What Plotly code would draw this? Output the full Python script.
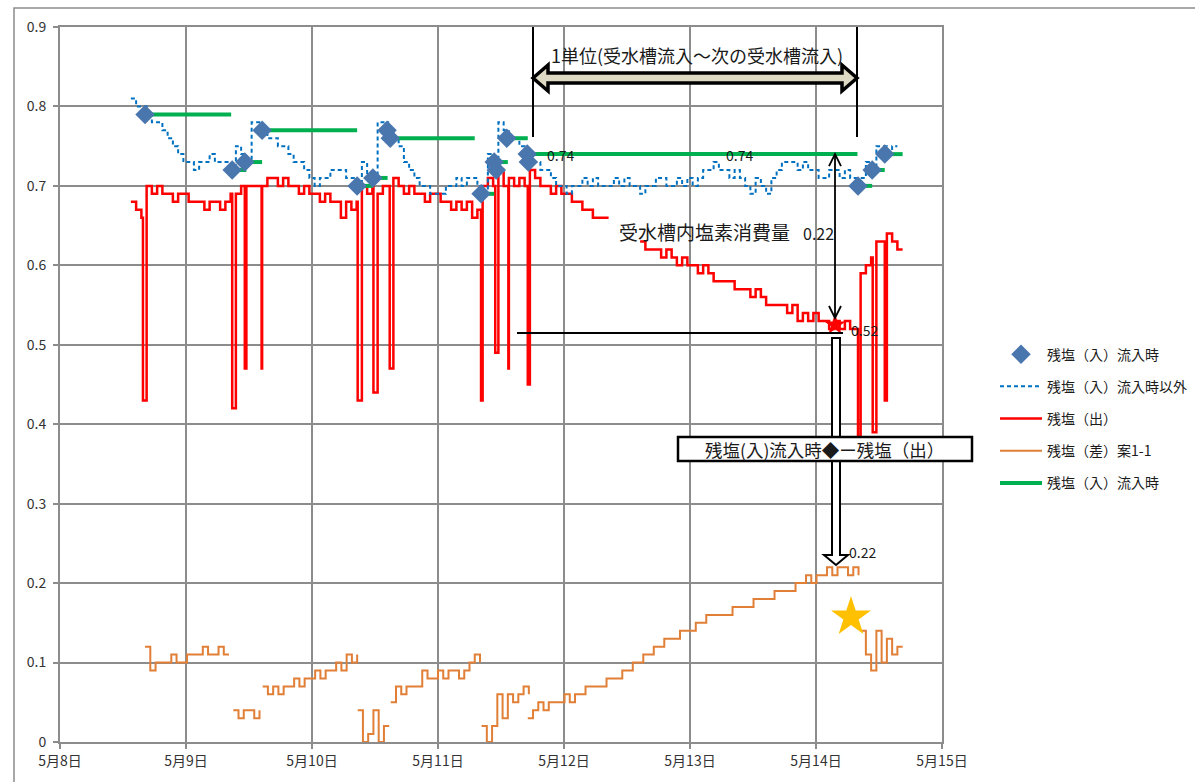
import plotly.graph_objects as go

# ---------------- data (time in hours from 5/8 00:00, hourly samples) ----------------
RED1_START = 13.5
red1_vals = [0.68, 0.67, 0.66, 0.70, 0.69, 0.70, 0.69, 0.69, 0.68, 0.69,
             0.69, 0.68, 0.68, 0.68, 0.67, 0.68, 0.68, 0.67, 0.68, 0.69,
             0.69, 0.70, 0.70, 0.70, 0.70, 0.70, 0.71, 0.71, 0.70, 0.71,
             0.70, 0.70, 0.69, 0.70, 0.69, 0.69, 0.68, 0.69, 0.68, 0.68,
             0.66, 0.68, 0.67, 0.68, 0.70, 0.69, 0.70, 0.69, 0.70, 0.70,
             0.71, 0.70, 0.69, 0.70, 0.69, 0.69, 0.68, 0.69, 0.69, 0.68,
             0.68, 0.67, 0.68, 0.67, 0.68, 0.66, 0.67, 0.70, 0.71, 0.70,
             0.72, 0.70, 0.71, 0.70, 0.71, 0.70, 0.72, 0.71, 0.70, 0.70,
             0.69, 0.70, 0.69, 0.69, 0.68, 0.68, 0.67, 0.67, 0.66, 0.66,
             0.66, 0.66]
red1_spike_h = [15.8, 32.8, 35.2, 38.4, 56.7, 59.7, 62.8, 80.2, 82.9, 85.4, 89.1]
red1_spike_v = [0.43, 0.42, 0.47, 0.47, 0.43, 0.44, 0.47, 0.43, 0.49, 0.47, 0.45]

RED2_START = 110.5
red2_vals = [0.63, 0.62, 0.62, 0.62, 0.61, 0.62, 0.61, 0.60, 0.61, 0.60,
             0.60, 0.59, 0.60, 0.59, 0.58, 0.58, 0.58, 0.58, 0.57, 0.57,
             0.57, 0.56, 0.57, 0.56, 0.55, 0.55, 0.55, 0.55, 0.54, 0.55,
             0.53, 0.54, 0.53, 0.54, 0.53, 0.53, 0.52, 0.53, 0.52, 0.53,
             0.52, 0.52, 0.59, 0.60, 0.61, 0.63, 0.63, 0.64, 0.63, 0.62,
             0.62]
red2_spike_h = [152.0, 154.8, 157.1]
red2_spike_v = [0.38, 0.39, 0.43]

BLUE_START = 13.5
blue_vals = [0.81, 0.80, 0.80, 0.79, 0.78, 0.78, 0.77, 0.76, 0.75, 0.74,
             0.73, 0.73, 0.72, 0.73, 0.73, 0.74, 0.73, 0.73, 0.73, 0.72,
             0.75, 0.74, 0.73, 0.78, 0.78, 0.77, 0.76, 0.76, 0.75, 0.75,
             0.74, 0.73, 0.73, 0.72, 0.71, 0.70, 0.71, 0.71, 0.72, 0.72,
             0.72, 0.71, 0.71, 0.70, 0.73, 0.71, 0.71, 0.78, 0.78, 0.77,
             0.76, 0.75, 0.73, 0.72, 0.71, 0.70, 0.70, 0.69, 0.69, 0.69,
             0.70, 0.70, 0.71, 0.70, 0.71, 0.71, 0.70, 0.69, 0.74, 0.73,
             0.78, 0.77, 0.76, 0.76, 0.75, 0.74, 0.73, 0.73, 0.72, 0.72,
             0.71, 0.70, 0.70, 0.69, 0.70, 0.70, 0.71, 0.70, 0.71, 0.70,
             0.70, 0.70, 0.71, 0.70, 0.71, 0.70, 0.70, 0.69, 0.70, 0.70,
             0.71, 0.71, 0.70, 0.70, 0.71, 0.70, 0.71, 0.70, 0.71, 0.72,
             0.72, 0.73, 0.72, 0.72, 0.71, 0.72, 0.71, 0.70, 0.69, 0.71,
             0.70, 0.69, 0.71, 0.72, 0.73, 0.73, 0.73, 0.72, 0.73, 0.72,
             0.72, 0.71, 0.71, 0.72, 0.72, 0.71, 0.72, 0.71, 0.71, 0.71,
             0.73, 0.72, 0.75, 0.75, 0.74, 0.75, 0.75]

# orange (difference) segments: start hour and hourly values
orange_starts = [16.2, 33.0, 38.6, 56.7, 63.0, 80.3, 89.1, 152.5]
orange_seg1 = [0.12, 0.09, 0.10, 0.10, 0.10, 0.11, 0.10, 0.10, 0.11, 0.11,
               0.11, 0.12, 0.11, 0.11, 0.12, 0.11, 0.11]
orange_seg2 = [0.04, 0.03, 0.04, 0.04, 0.03, 0.04]
orange_seg3 = [0.07, 0.06, 0.07, 0.06, 0.07, 0.07, 0.08, 0.07, 0.08, 0.08,
               0.09, 0.08, 0.09, 0.09, 0.10, 0.09, 0.11, 0.10, 0.11]
orange_seg4 = [0.04, 0.00, 0.01, 0.04, 0.00, 0.02, 0.02]
orange_seg5 = [0.05, 0.07, 0.06, 0.07, 0.07, 0.07, 0.09, 0.08, 0.08, 0.09,
               0.08, 0.09, 0.09, 0.08, 0.09, 0.10, 0.11, 0.10]
orange_seg6 = [0.02, 0.00, 0.02, 0.06, 0.03, 0.06, 0.05, 0.06, 0.07, 0.06]
orange_seg7 = [0.03, 0.04, 0.05, 0.04, 0.05, 0.05, 0.05, 0.06, 0.05, 0.06,
               0.06, 0.07, 0.07, 0.07, 0.07, 0.08, 0.08, 0.08, 0.09, 0.09,
               0.10, 0.10, 0.11, 0.11, 0.12, 0.12, 0.13, 0.13, 0.13, 0.14,
               0.14, 0.14, 0.15, 0.15, 0.16, 0.16, 0.16, 0.16, 0.16, 0.17,
               0.17, 0.17, 0.17, 0.18, 0.18, 0.18, 0.18, 0.19, 0.19, 0.19,
               0.19, 0.20, 0.20, 0.21, 0.20, 0.21, 0.21, 0.22, 0.21, 0.22,
               0.22, 0.21, 0.22, 0.21]
orange_seg8 = [0.14, 0.11, 0.09, 0.14, 0.10, 0.13, 0.11, 0.12, 0.12]
orange_segs = [orange_seg1, orange_seg2, orange_seg3, orange_seg4,
               orange_seg5, orange_seg6, orange_seg7, orange_seg8]

# inflow points (diamonds)
inflow_h = [16.2, 32.8, 35.2, 38.5, 56.6, 59.6, 62.3, 62.9, 80.2, 82.7,
            83.1, 85.1, 89.0, 89.2, 152.0, 154.7, 157.1]
inflow_v = [0.79, 0.72, 0.73, 0.77, 0.70, 0.71, 0.77, 0.76, 0.69, 0.73,
            0.72, 0.76, 0.74, 0.73, 0.70, 0.72, 0.74]

# inflow value held (green)
green_start_h = [16.2, 32.8, 35.2, 38.5, 56.6, 59.6, 62.9, 80.2, 82.9, 85.3, 89.3, 152.0, 154.7, 157.1]
green_end_h = [32.6, 35.5, 38.5, 56.6, 59.6, 62.4, 79.0, 82.7, 85.3, 89.1, 151.9, 154.7, 157.1, 160.5]
green_val = [0.79, 0.72, 0.73, 0.77, 0.70, 0.71, 0.76, 0.69, 0.73, 0.76, 0.74, 0.70, 0.72, 0.74]

day_labels = ["5月8日", "5月9日", "5月10日", "5月11日", "5月12日", "5月13日", "5月14日", "5月15日"]
y_ticks = [0, 0.1, 0.2, 0.3, 0.4, 0.5, 0.6, 0.7, 0.8, 0.9]
y_labels = ["0", "0.1", "0.2", "0.3", "0.4", "0.5", "0.6", "0.7", "0.8", "0.9"]

# ---------------- helpers ----------------
def regular(start, vals):
    return [(start + i, v) for i, v in enumerate(vals)]


def merged(start, vals, sh, sv):
    pts = regular(start, vals) + list(zip(sh, sv))
    pts.sort(key=lambda p: p[0])
    return pts


def join(segments):
    xs, ys = [], []
    for seg in segments:
        if xs:
            xs.append(None)
            ys.append(None)
        for t, v in seg:
            xs.append(t / 24.0)
            ys.append(v)
    return xs, ys


red_x, red_y = join([merged(RED1_START, red1_vals, red1_spike_h, red1_spike_v),
                     merged(RED2_START, red2_vals, red2_spike_h, red2_spike_v)])
blue_x, blue_y = join([regular(BLUE_START, blue_vals)])
orng_x, orng_y = join([regular(s, v) for s, v in zip(orange_starts, orange_segs)])
green_x, green_y = join([[(a, v), (b, v)] for a, b, v in zip(green_start_h, green_end_h, green_val)])

FONT = "Noto Sans CJK JP"

fig = go.Figure()
fig.add_trace(go.Scatter(x=orng_x, y=orng_y, mode="lines", line=dict(color="#E17F36", width=2, shape="hv"),
                         name="残塩（差）案1-1", legendrank=4, legendgroup="d", connectgaps=False))
fig.add_trace(go.Scatter(x=red_x, y=red_y, mode="lines", line=dict(color="#FF0000", width=2.5, shape="hv"),
                         name="残塩（出）", legendrank=3, legendgroup="c", connectgaps=False))
fig.add_trace(go.Scatter(x=blue_x, y=blue_y, mode="lines",
                         line=dict(color="#0070C0", width=2, dash="4px,3px", shape="hv"),
                         name="残塩（入）流入時以外", legendrank=2, legendgroup="b"))
fig.add_trace(go.Scatter(x=green_x, y=green_y, mode="lines", line=dict(color="#00B050", width=4),
                         name="残塩（入）流入時", legendrank=5, legendgroup="e", connectgaps=False))
fig.add_trace(go.Scatter(x=[h / 24.0 for h in inflow_h], y=inflow_v, mode="markers",
                         marker=dict(symbol="diamond", size=15, color="#4A76AE"),
                         name="残塩（入）流入時", legendrank=1, legendgroup="a"))

# ---------------- decorations ----------------
def X(px):
    return (px - 60) / 126.0


def Y(py):
    return (742 - py) / 794.4


shapes = []
# chart area border
shapes.append(dict(type="rect", xref="paper", yref="paper", x0=(14 - 60) / 882, x1=1.4,
                   y0=-0.2, y1=1 + (27 - 8) / 715, line=dict(color="#8C8C8C", width=1.5), layer="below"))
# unit boundaries
for px in (533, 857):
    shapes.append(dict(type="line", x0=X(px), x1=X(px), y0=0.9, y1=Y(137), line=dict(color="black", width=2)))
# block double arrow
xl, xr, yc = X(533), X(857), Y(78)
hl, sh, hh = 15 / 126, 5 / 794.4, 13 / 794.4
p = (f"M {xl},{yc} L {xl+hl},{yc+hh} L {xl+hl},{yc+sh} L {xr-hl},{yc+sh} L {xr-hl},{yc+hh} "
     f"L {xr},{yc} L {xr-hl},{yc-hh} L {xr-hl},{yc-sh} L {xl+hl},{yc-sh} L {xl+hl},{yc-hh} Z")
shapes.append(dict(type="path", path=p, fillcolor="#DDD9C3", line=dict(color="black", width=3.5)))
# thin double arrow (consumption)
ax = X(835)
yt, yb = 0.74, Y(318)
shapes.append(dict(type="line", x0=ax, x1=ax, y0=yt, y1=yb, line=dict(color="black", width=1.8)))
shapes.append(dict(type="path", path=f"M {ax-6/126},{yt-12/794.4} L {ax},{yt} L {ax+6/126},{yt-12/794.4}",
                   line=dict(color="black", width=1.8)))
shapes.append(dict(type="path", path=f"M {ax-6/126},{yb+12/794.4} L {ax},{yb} L {ax+6/126},{yb+12/794.4}",
                   line=dict(color="black", width=1.8)))
# 0.52 reference line
shapes.append(dict(type="line", x0=X(517), x1=X(843), y0=Y(333), y1=Y(333), line=dict(color="black", width=1.8)))
# hollow down arrow
hp = (f"M {X(832)},{Y(338)} L {X(840)},{Y(338)} L {X(840)},{Y(555)} L {X(848)},{Y(555)} "
      f"L {X(836)},{Y(565)} L {X(824)},{Y(555)} L {X(832)},{Y(555)} Z")
shapes.append(dict(type="path", path=hp, fillcolor="white", line=dict(color="black", width=2)))
# difference box
shapes.append(dict(type="rect", xref="paper", yref="paper", x0=(678 - 60) / 882, x1=(972 - 60) / 882,
                   y0=(742 - 461) / 715, y1=(742 - 437) / 715, fillcolor="white",
                   line=dict(color="black", width=2.5), layer="above"))

# stars
fig.add_trace(go.Scatter(x=[X(835)], y=[Y(325)], mode="markers", showlegend=False,
                         marker=dict(symbol="star", size=16, color="#FF0000")))
fig.add_trace(go.Scatter(x=[X(851)], y=[Y(617)], mode="markers", showlegend=False,
                         marker=dict(symbol="star", size=30, color="#FFC000")))

ann = []
def text(x, y, s, size, xanchor="center", xref="x", yref="y"):
    ann.append(dict(x=x, y=y, xref=xref, yref=yref, text=s, showarrow=False, xanchor=xanchor,
                    yanchor="middle", font=dict(family=FONT, size=size, color="#1a1a1a")))

text(X(697), Y(55), "1単位(受水槽流入～次の受水槽流入)", 18)
text(X(545), Y(155), "0.74", 14, "left")
text(X(724), Y(155), "0.74", 14, "left")
text(X(704), Y(232), "受水槽内塩素消費量", 19)
text(X(801), Y(233), "0.22", 16, "left")
text(X(849), Y(330), "0.52", 14, "left")
text(X(847), Y(552), "0.22", 14, "left")
text((824 - 60) / 882, (742 - 449) / 715, "残塩(入)流入時◆ー残塩（出）", 17.5, "center", "paper", "paper")

fig.update_layout(
    width=1195, height=782,
    margin=dict(l=60, r=253, t=27, b=40, autoexpand=False),
    paper_bgcolor="white", plot_bgcolor="white",
    font=dict(family=FONT, size=13, color="#333333"),
    shapes=shapes, annotations=ann,
    legend=dict(x=(995 - 60) / 882, y=0.5643, xanchor="left", yanchor="top", itemwidth=42,
                font=dict(family=FONT, size=14, color="#1a1a1a"),
                tracegroupgap=11, bgcolor="rgba(0,0,0,0)"),
    showlegend=True,
)
fig.update_xaxes(range=[0, 7], tickvals=list(range(8)), ticktext=day_labels, showgrid=True,
                 gridcolor="#8C8C8C", gridwidth=2, showline=True, linecolor="#8C8C8C", linewidth=2,
                 mirror=True, ticks="outside", ticklen=5, tickcolor="#8C8C8C", tickwidth=2,
                 zeroline=False, tickfont=dict(family=FONT, size=14, color="#333333"))
fig.update_yaxes(range=[0, 0.9], tickvals=y_ticks, ticktext=y_labels,
                 showgrid=True, gridcolor="#8C8C8C", gridwidth=2, showline=True, linecolor="#8C8C8C",
                 linewidth=2, mirror=True, ticks="outside", ticklen=5, tickcolor="#8C8C8C", tickwidth=2,
                 ticklabelstandoff=4,
                 zeroline=False, tickfont=dict(family=FONT, size=14, color="#333333"))

fig.write_html("out.html")
